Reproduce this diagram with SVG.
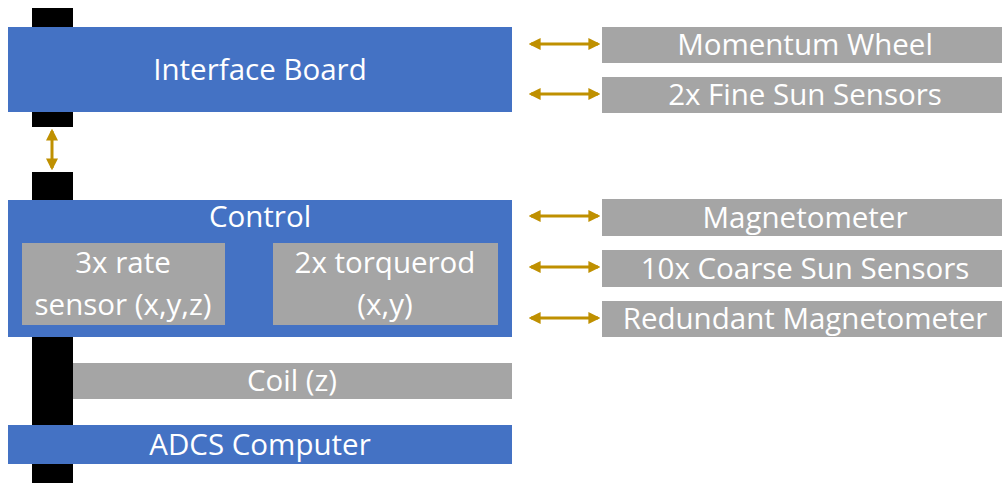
<svg xmlns="http://www.w3.org/2000/svg" width="1002" height="483" viewBox="0 0 1002 483">
<style>
.blue{fill:#4472C4}
.gray{fill:#A5A5A5}
.bar{fill:#000}
.t{font-family:"Open Sans","Noto Sans",sans-serif;font-size:29.5px;fill:#fff;text-anchor:middle}
.c{stroke:#BF9000;stroke-width:3;fill:none;marker-start:url(#ah);marker-end:url(#ah)}
</style>
<defs>
<marker id="ah" viewBox="0 0 10 10" refX="8" refY="5" markerWidth="4" markerHeight="4" orient="auto-start-reverse" markerUnits="strokeWidth">
<path d="M0,0 L10,5 L0,10 Z" fill="#BF9000"/>
</marker>
</defs>
<g id="bus">
<rect class="bar" x="32" y="8" width="41" height="119"/>
<rect class="bar" x="32" y="172" width="41" height="311"/>
</g>
<g id="interface-board">
<rect class="blue" x="8" y="27" width="504" height="85"/>
<text class="t" x="260" y="80">Interface Board</text>
</g>
<g id="control">
<rect class="blue" x="8" y="200" width="504" height="137"/>
<text class="t" x="260" y="227">Control</text>
</g>
<g id="rate-sensor">
<rect class="gray" x="22" y="243" width="203" height="82"/>
<text class="t" x="123" y="273">3x rate</text>
<text class="t" x="123" y="315">sensor (x,y,z)</text>
</g>
<g id="torquerod">
<rect class="gray" x="273" y="243" width="225" height="82"/>
<text class="t" x="385" y="273">2x torquerod</text>
<text class="t" x="385" y="315">(x,y)</text>
</g>
<g id="coil">
<rect class="gray" x="73" y="363" width="439" height="36"/>
<text class="t" x="292" y="391">Coil (z)</text>
</g>
<g id="adcs-computer">
<rect class="blue" x="8" y="425" width="504" height="39"/>
<text class="t" x="260" y="455">ADCS Computer</text>
</g>
<g id="momentum-wheel">
<rect class="gray" x="602" y="27" width="400" height="36"/>
<text class="t" x="805" y="55">Momentum Wheel</text>
</g>
<g id="fine-sun-sensors">
<rect class="gray" x="602" y="77" width="400" height="36"/>
<text class="t" x="805" y="105">2x Fine Sun Sensors</text>
</g>
<g id="magnetometer">
<rect class="gray" x="602" y="199" width="400" height="37"/>
<text class="t" x="805" y="228">Magnetometer</text>
</g>
<g id="coarse-sun-sensors">
<rect class="gray" x="602" y="250" width="400" height="37"/>
<text class="t" x="805" y="279">10x Coarse Sun Sensors</text>
</g>
<g id="redundant-magnetometer">
<rect class="gray" x="602" y="301" width="400" height="36"/>
<text class="t" x="805" y="329">Redundant Magnetometer</text>
</g>
<g id="connectors">
<line class="c" x1="531" y1="44" x2="598" y2="44"/>
<line class="c" x1="531" y1="94" x2="598" y2="94"/>
<line class="c" x1="531" y1="216" x2="598" y2="216"/>
<line class="c" x1="531" y1="267" x2="598" y2="267"/>
<line class="c" x1="531" y1="318" x2="598" y2="318"/>
<line class="c" x1="52" y1="131" x2="52" y2="168"/>
</g>
</svg>
